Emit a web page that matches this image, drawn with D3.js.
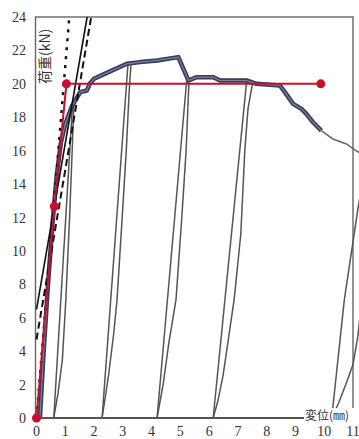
<!DOCTYPE html>
<html>
<head>
<meta charset="utf-8">
<script src="https://cdn.jsdelivr.net/npm/d3@7"></script>
<style>
  body { margin: 0; background: #fff; }
  svg { display: block; }
  .tick { font-family: "Liberation Serif", "DejaVu Serif", serif; font-size: 14px; fill: #333; }
</style>
</head>
<body>
<svg id="main" width="359" height="439"></svg>
<script>
// axis ticks
const xTicks = [0, 1, 2, 3, 4, 5, 6, 7, 8, 9, 10, 11];
const yTicks = [0, 2, 4, 6, 8, 10, 12, 14, 16, 18, 20, 22, 24];

// envelope (thick line) [disp mm, load kN]
const envelope = [
    [0.12, 0], [0.25, 4], [0.4, 8], [0.55, 11.5], [0.7, 14.5], [0.85, 16.5],
    [1.0, 17.6], [1.24, 18.7], [1.52, 19.5], [1.75, 19.6], [1.85, 20.0],
    [2.0, 20.3], [2.5, 20.7], [3.14, 21.2], [3.6, 21.3], [4.2, 21.4],
    [4.93, 21.6], [5.28, 20.2], [5.57, 20.4], [6.15, 20.4], [6.38, 20.2],
    [7.3, 20.2], [7.65, 20.0], [8.46, 19.9], [8.63, 19.5], [8.92, 18.8],
    [9.21, 18.5], [9.38, 18.2], [9.61, 17.7], [9.9, 17.2]
];
// thin tail after the envelope
const tail = [[9.9, 17.2], [10.3, 16.7], [10.77, 16.4], [11.1, 16.0], [11.3, 15.8]];

// unloading / reloading cycles
const cycles = [
    [[1.25, 18.7], [0.6, 0]],
    [[0.6, 0], [0.75, 1.5], [0.9, 3.5], [1.02, 7.1], [1.15, 12], [1.24, 16], [1.3, 18.9]],
    [[3.18, 21.2], [2.28, 0]],
    [[2.28, 0], [2.5, 2.5], [2.68, 5], [2.8, 7.1], [2.96, 11.5], [3.12, 16], [3.22, 19.5], [3.28, 21.1]],
    [[5.22, 20.2], [4.19, 0]],
    [[4.19, 0], [4.4, 2], [4.6, 4.5], [4.85, 7.1], [5.05, 12], [5.2, 16], [5.3, 20.2]],
    [[7.3, 20.1], [6.14, 0]],
    [[6.14, 0], [6.3, 1], [6.48, 2.5], [6.65, 4.5], [6.87, 7.1], [7.1, 11], [7.24, 16], [7.35, 18.5], [7.5, 19.95]],
    [[10.26, 0], [10.7, 7.1], [11.17, 12.5], [11.5, 16]],
    [[10.26, 0], [10.5, 0.9], [10.75, 2], [11.0, 3.2], [11.17, 4.9], [11.3, 7]]
];

// red bilinear model
const redLine = [[0, 0], [0.62, 12.66], [1.04, 20.0], [9.88, 20.0]];
const redDots = [[0, 0], [0.62, 12.66], [1.04, 20.0], [9.88, 20.0]];

// straight reference lines
const solidLine = [[0, 6.5], [1.76, 24]];
const dashLine = [[0, 4.7], [1.9, 24]];
const dotLine = [[0, 0], [1.14, 24]];

const svg = d3.select("#main");

const xScale = d3.scaleLinear([0, 11], [36.5, 353]);
const yScale = d3.scaleLinear([0, 24], [418, 17]);

const line = d3.line()
    .x(d => xScale(d[0]))
    .y(d => yScale(d[1]));

// frame
svg.append("rect")
    .attr("x", xScale(0) - 1)
    .attr("y", yScale(24))
    .attr("width", xScale(11) - xScale(0) + 1)
    .attr("height", yScale(0) - yScale(24))
    .attr("fill", "none")
    .attr("stroke", "#666")
    .attr("stroke-width", 1.4);

// tick labels
svg.append("g")
    .selectAll("text")
    .data(yTicks)
    .join("text")
    .attr("class", "tick")
    .attr("x", 26)
    .attr("y", d => yScale(d) + 5)
    .attr("text-anchor", "end")
    .text(d => d);

svg.append("g")
    .selectAll("text")
    .data(xTicks)
    .join("text")
    .attr("class", "tick")
    .attr("x", d => xScale(d))
    .attr("y", 436)
    .attr("text-anchor", "middle")
    .text(d => d);

// cycles
svg.append("g")
    .selectAll("path")
    .data(cycles)
    .join("path")
    .attr("d", line)
    .attr("fill", "none")
    .attr("stroke", "#555")
    .attr("stroke-width", 1.5);

svg.append("path")
    .attr("d", line(tail))
    .attr("fill", "none")
    .attr("stroke", "#666")
    .attr("stroke-width", 1.5);

// envelope, thick navy with lighter core
svg.append("path")
    .attr("d", line(envelope))
    .attr("fill", "none")
    .attr("stroke", "#363d5e")
    .attr("stroke-width", 4.5)
    .attr("stroke-linejoin", "round");
svg.append("path")
    .attr("d", line(envelope))
    .attr("fill", "none")
    .attr("stroke", "#7d8296")
    .attr("stroke-width", 1.2)
    .attr("stroke-linejoin", "round");

// bottom axis
svg.append("line")
    .attr("x1", xScale(0) - 1)
    .attr("x2", xScale(11))
    .attr("y1", yScale(0))
    .attr("y2", yScale(0))
    .attr("stroke", "#555")
    .attr("stroke-width", 2);

// reference lines
svg.append("path")
    .attr("d", line(solidLine))
    .attr("stroke", "#111")
    .attr("stroke-width", 1.6);
svg.append("path")
    .attr("d", line(dashLine))
    .attr("stroke", "#111")
    .attr("stroke-width", 2)
    .attr("stroke-dasharray", "7,4");
svg.append("path")
    .attr("d", line(dotLine))
    .attr("stroke", "#111")
    .attr("stroke-width", 2.5)
    .attr("stroke-dasharray", "3,6");

// red model
svg.append("path")
    .attr("d", line(redLine))
    .attr("fill", "none")
    .attr("stroke", "#c8102e")
    .attr("stroke-width", 2);
svg.append("g")
    .selectAll("circle")
    .data(redDots)
    .join("circle")
    .attr("cx", d => xScale(d[0]))
    .attr("cy", d => yScale(d[1]))
    .attr("r", 4.5)
    .attr("fill", "#c8102e");

// axis titles
svg.append("text")
    .attr("transform", "translate(50, 84) rotate(-90)")
    .attr("font-family", "'Noto Sans CJK JP', sans-serif")
    .attr("font-size", 14)
    .attr("fill", "#333")
    .text("荷重(kN)");

svg.append("rect")
    .attr("x", 304)
    .attr("y", 408)
    .attr("width", 55)
    .attr("height", 15)
    .attr("fill", "#fff");
svg.append("text")
    .attr("x", 305)
    .attr("y", 420)
    .attr("font-family", "'Noto Sans CJK JP', sans-serif")
    .attr("font-size", 12)
    .attr("fill", "#333")
    .text("変位(㎜)");
</script>
</body>
</html>
